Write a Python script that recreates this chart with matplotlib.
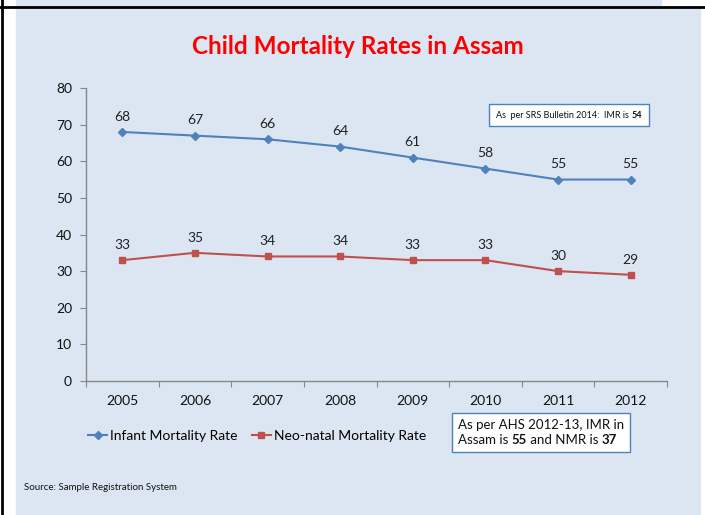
import matplotlib.pyplot as plt
from matplotlib.patches import Rectangle
from matplotlib.offsetbox import TextArea, HPacker, VPacker, AnnotationBbox
from matplotlib.lines import Line2D

plt.rcParams['font.family'] = ['Lato', 'DejaVu Sans']

years = ['2005', '2006', '2007', '2008', '2009', '2010', '2011', '2012']
imr = [68, 67, 66, 64, 61, 58, 55, 55]
nmr = [33, 35, 34, 34, 33, 33, 30, 29]

blue = '#4f81bd'
red = '#c0504d'
bg = '#dce6f2'
grey = '#868686'

fig = plt.figure(figsize=(7.05, 5.15), dpi=100)
fig.patch.set_facecolor('white')

# slide background panels and black frame lines
fig.patches.append(Rectangle((16 / 705, 0), (700 - 16) / 705, 1 - 8 / 515,
                             transform=fig.transFigure, color=bg, zorder=-10))
fig.patches.append(Rectangle((16 / 705, 1 - 6 / 515), (661 - 16) / 705, 6 / 515,
                             transform=fig.transFigure, color=bg, zorder=-10))
fig.lines.append(Line2D([0, 1], [1 - 6.5 / 515] * 2, transform=fig.transFigure,
                        color='black', lw=2, zorder=-5))
fig.lines.append(Line2D([2 / 705] * 2, [0, 1], transform=fig.transFigure,
                        color='black', lw=2, zorder=-5))

ax = fig.add_axes([86 / 705, 1 - 381 / 515, (667 - 86) / 705, (381 - 88) / 515])
ax.set_facecolor('none')
ax.set_zorder(1)

x = list(range(len(years)))
ax.plot(x, imr, color=blue, lw=1.5, marker='D', ms=4, label='Infant Mortality Rate')
ax.plot(x, nmr, color=red, lw=1.5, marker='s', ms=5, label='Neo-natal Mortality Rate')

for xi, v in zip(x, imr):
    ax.annotate(str(v), (xi, v), xytext=(0, 11), textcoords='offset points',
                ha='center', va='center', fontsize=10, color='#222222')
for xi, v in zip(x, nmr):
    ax.annotate(str(v), (xi, v), xytext=(0, 11), textcoords='offset points',
                ha='center', va='center', fontsize=10, color='#222222')

ax.set_xlim(-0.5, len(years) - 0.5)
ax.set_ylim(0, 80)
ax.set_yticks(range(0, 81, 10))
ax.set_xticks([i - 0.5 for i in range(len(years) + 1)])
ax.set_xticklabels([])
ax.set_xticks(x, minor=True)
ax.set_xticklabels(years, minor=True)
ax.tick_params(axis='x', which='major', length=4, color=grey, direction='out')
ax.tick_params(axis='x', which='minor', length=0, pad=10, labelsize=10,
               labelcolor='#111111')
ax.tick_params(axis='y', length=4, color=grey, labelsize=10, pad=6,
               labelcolor='#111111')
for side in ['top', 'right']:
    ax.spines[side].set_visible(False)
for side in ['left', 'bottom']:
    ax.spines[side].set_color(grey)
    ax.spines[side].set_linewidth(1)

fig.text(358 / 705, 1 - 46 / 515, 'Child Mortality Rates in Assam', color='#ff0000',
         fontsize=17.5, fontweight='bold', ha='center', va='center')

handles, labels = ax.get_legend_handles_labels()
fig.legend(handles, labels, loc='center', bbox_to_anchor=(257 / 705, 1 - 436 / 515),
           ncol=2, frameon=False, fontsize=10, handlelength=1.4, handletextpad=0.2,
           columnspacing=1.0, markerscale=0.9)

fig.text(24 / 705, 1 - 487 / 515, 'Source: Sample Registration System',
         fontsize=7, color='#111111', va='center')


def note_box(lines, size, center, pad):
    rows = []
    for parts in lines:
        areas = [TextArea(t, textprops=dict(fontsize=size, color='#111111',
                                            fontweight='bold' if b else 'normal'))
                 for t, b in parts]
        rows.append(HPacker(children=areas, align='baseline', pad=0, sep=0))
    box = VPacker(children=rows, align='left', pad=0, sep=2)
    ab = AnnotationBbox(box, center, xycoords='figure fraction', frameon=True,
                        pad=pad, box_alignment=(0.5, 0.5))
    ab.patch.set_edgecolor(blue)
    ab.patch.set_facecolor('white')
    ab.patch.set_linewidth(1)
    ab.set_zorder(3)
    fig.add_artist(ab)


note_box([[('As  per SRS Bulletin 2014:  IMR is ', False), ('54', True)]],
         6.5, (569 / 705, 1 - 115 / 515), 0.5)
note_box([[('As per AHS 2012-13, IMR in', False)],
          [('Assam is ', False), ('55', True), (' and NMR is ', False), ('37', True)]],
         9.5, (541 / 705, 1 - 432.5 / 515), 0.45)

fig.savefig('out.png', dpi=100)
